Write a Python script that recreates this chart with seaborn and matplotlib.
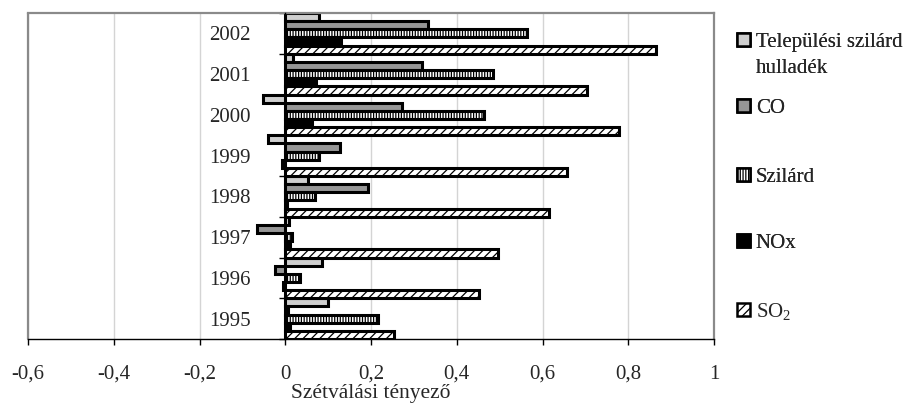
import numpy as np
import pandas as pd
import matplotlib
matplotlib.use("Agg")
import matplotlib.pyplot as plt
import seaborn as sns
from matplotlib.ticker import FixedLocator, FuncFormatter
from matplotlib.patches import Patch

# ---- data ----
years = ["2002", "2001", "2000", "1999", "1998", "1997", "1996", "1995"]
series = ["Települési szilárd hulladék", "CO", "Szilárd", "NOx", "SO$_2$"]
telepulesi = [0.078, 0.017, -0.051, -0.041, 0.054, 0.009, 0.085, 0.099]
co = [0.332, 0.319, 0.272, 0.128, 0.193, -0.065, -0.023, 0.006]
szilard = [0.565, 0.484, 0.464, 0.079, 0.069, 0.016, 0.034, 0.217]
nox = [0.131, 0.072, 0.062, -0.008, 0.003, 0.012, -0.005, 0.012]
so2 = [0.864, 0.703, 0.778, 0.657, 0.614, 0.497, 0.453, 0.254]
xticks = [-0.6, -0.4, -0.2, 0, 0.2, 0.4, 0.6, 0.8, 1.0]
legend_labels = [["Települési szilárd", "hulladék"], ["CO"], ["Szilárd"], ["NOx"], ["SO$_2$"]]

values = [telepulesi, co, szilard, nox, so2]
rows = []
for s, vals in zip(series, values):
    for y, v in zip(years, vals):
        rows.append({"year": y, "series": s, "value": v})
df = pd.DataFrame(rows)

# ---- style ----
sns.set_style("white")
plt.rcParams["font.family"] = ["Liberation Serif", "DejaVu Serif"]
plt.rcParams["hatch.linewidth"] = 0.9
plt.rcParams["mathtext.fontset"] = "custom"
plt.rcParams["mathtext.rm"] = "Liberation Serif"

faces = ["#cfcfcf", "#969696", "white", "black", "white"]
hatches = [None, None, "||||||", None, "////"]
palette = dict(zip(series, faces))

fig = plt.figure(figsize=(9.10, 4.05), dpi=100)
ax = fig.add_axes([28 / 910, 1 - 339 / 405, (714 - 28) / 910, (339 - 13) / 405])

sns.barplot(data=df, x="value", y="year", hue="series", order=years,
            hue_order=series, palette=palette, orient="h", width=1.0,
            errorbar=None, legend=False, ax=ax, saturation=1)

for cont, fc, h in zip(ax.containers, faces, hatches):
    for p in cont.patches:
        p.set_facecolor(fc)
        p.set_edgecolor("black")
        p.set_linewidth(2.2)
        if h:
            p.set_hatch(h)

ax.set_xlim(-0.6, 1.0)
ax.set_ylim(len(years) - 0.5, -0.5)

# grid
ax.set_axisbelow(True)
ax.xaxis.grid(True, color="#d4d4d4", lw=1.0)
ax.yaxis.grid(False)

# x axis
ax.xaxis.set_major_locator(FixedLocator(xticks))
ax.xaxis.set_major_formatter(FuncFormatter(
    lambda v, p: "0" if abs(v) < 1e-9 else ("1" if abs(v - 1) < 1e-9 else f"{v:.1f}".replace(".", ","))))
ax.tick_params(axis="x", direction="out", length=4.5, width=1, color="black",
               labelsize=15, pad=14, bottom=True)

# category axis at x = 0
ax.spines["left"].set_position(("data", 0))
ax.spines["left"].set_color("black")
ax.spines["left"].set_linewidth(1.0)
ax.spines["left"].set_zorder(5)
ax.yaxis.set_minor_locator(FixedLocator(np.arange(-0.5, len(years), 1.0)))
ax.tick_params(axis="y", which="major", length=0, labelsize=15, pad=25)
ax.tick_params(axis="y", which="minor", direction="out", length=4.5, width=1,
               color="black", left=True)
ax.set_ylabel("")

ax.spines["bottom"].set_color("black")
ax.spines["bottom"].set_linewidth(1.0)
for s in ["top", "right"]:
    ax.spines[s].set_color("#8a8a8a")
    ax.spines[s].set_linewidth(1.6)
ax.plot([0, 0], [0, 1], transform=ax.transAxes, color="#8a8a8a", lw=1.6,
        clip_on=False, zorder=1)

ax.set_xlabel("Szétválási tényező", fontsize=15.5, labelpad=0)

# legend: one box per line to match the original spacing
legend_y = [33, 59, 99, 168, 234, 301]
k = 0
boxes = []
for i, (labs, fc, h) in enumerate(zip(legend_labels, faces, hatches)):
    for j, lab in enumerate(labs):
        if j == 0:
            handle = Patch(facecolor=fc, edgecolor="black", hatch=h, linewidth=1.8)
        else:
            handle = Patch(facecolor="none", edgecolor="none")
        lg = fig.legend([handle], [lab], loc="upper left",
                        bbox_to_anchor=(737 / 910, 1 - legend_y[k] / 405),
                        frameon=False, fontsize=15, handlelength=0.6,
                        handleheight=0.6, handletextpad=0.3, borderpad=0,
                        borderaxespad=0)
        boxes.append(lg)
        k += 1
for lg in boxes[:-1]:
    fig.add_artist(lg)

fig.savefig("out.png", dpi=100)
